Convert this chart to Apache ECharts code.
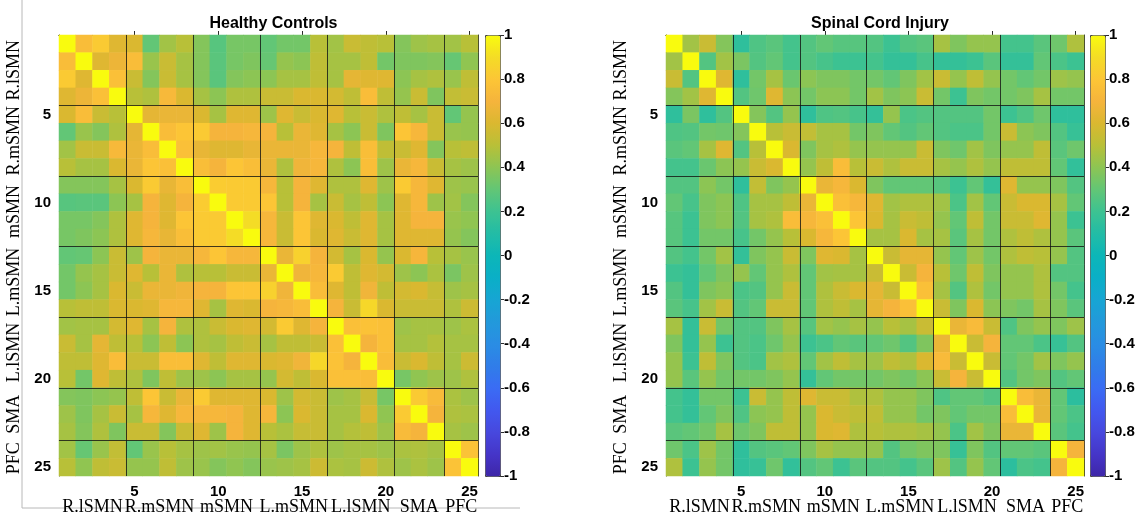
<!DOCTYPE html>
<html><head><meta charset="utf-8">
<script src="https://cdn.jsdelivr.net/npm/echarts@6/dist/echarts.min.js"></script>
<style>html,body{margin:0;padding:0;background:#fff}#c{width:1139px;height:516px}</style>
</head><body><div id="c"></div>
<script>
// ---------------- DATA ----------------
const categories = ['1','2','3','4','5','6','7','8','9','10','11','12','13','14','15','16','17','18','19','20','21','22','23','24','25'];
const tickLabels = ['5','10','15','20','25'];
const groupNames = ['R.lSMN','R.mSMN','mSMN','L.mSMN','L.lSMN','SMA','PFC'];
const groupSizes = [4,4,4,4,4,3,2];
const titles = ['Healthy Controls','Spinal Cord Injury'];

// symmetric correlation matrices: row i holds columns i..25 (upper triangle)
const hcUpper = [
 [1,.75,.82,.62,.6,.3,.45,.5,.38,.27,.35,.35,.3,.34,.34,.5,.45,.55,.52,.5,.38,.44,.46,.45,.5],
 [1,.62,.67,.75,.43,.55,.46,.38,.28,.35,.37,.31,.42,.4,.52,.46,.46,.52,.34,.37,.37,.38,.31,.41],
 [1,.77,.55,.38,.55,.46,.38,.28,.38,.4,.4,.46,.46,.52,.46,.64,.62,.62,.4,.46,.48,.43,.52],
 [1,.5,.48,.73,.6,.46,.4,.48,.48,.55,.55,.6,.6,.58,.52,.75,.52,.42,.55,.37,.53,.55],
 [1,.64,.66,.66,.6,.46,.62,.62,.44,.62,.55,.6,.62,.5,.55,.48,.52,.46,.55,.3,.42],
 [1,.75,.8,.82,.7,.7,.72,.7,.5,.66,.62,.46,.4,.55,.37,.8,.72,.55,.43,.42],
 [1,.77,.65,.62,.62,.65,.66,.66,.66,.72,.7,.52,.76,.52,.55,.62,.38,.5,.52],
 [1,.76,.7,.8,.76,.66,.48,.68,.72,.48,.4,.76,.44,.66,.72,.55,.46,.44],
 [1,.83,.82,.82,.72,.5,.7,.62,.48,.48,.62,.44,.82,.72,.62,.44,.43],
 [1,.82,.82,.8,.5,.7,.46,.55,.46,.52,.4,.62,.72,.44,.45,.38],
 [1,.9,.72,.55,.8,.62,.6,.52,.62,.46,.62,.7,.7,.43,.41],
 [1,.72,.55,.8,.6,.62,.55,.62,.46,.62,.62,.62,.42,.38],
 [1,.66,.85,.7,.58,.46,.6,.42,.6,.71,.5,.46,.43],
 [1,.68,.72,.82,.52,.62,.58,.44,.4,.47,.36,.44],
 [1,.75,.62,.52,.68,.52,.58,.6,.54,.44,.46],
 [1,.7,.55,.88,.6,.55,.55,.55,.48,.56],
 [1,.77,.78,.77,.44,.46,.46,.44,.47],
 [1,.7,.77,.46,.46,.49,.46,.46],
 [1,.75,.55,.6,.52,.46,.56],
 [1,.35,.41,.44,.44,.48],
 [1,.82,.74,.47,.44],
 [1,.7,.48,.47],
 [1,.46,.44],
 [1,.79],
 [1]
];
const sciUpper = [
 [1,.45,.55,.38,.15,.25,.28,.22,.26,.3,.27,.27,.26,.2,.26,.28,.46,.37,.42,.42,.22,.22,.28,.33,.48],
 [1,.26,.45,.36,.26,.3,.22,.26,.23,.2,.2,.22,.17,.17,.23,.17,.17,.2,.28,.17,.17,.3,.24,.2],
 [1,.62,.15,.34,.46,.32,.4,.37,.37,.34,.34,.3,.37,.45,.55,.42,.52,.42,.34,.3,.34,.44,.42],
 [1,.26,.33,.62,.4,.34,.4,.4,.34,.45,.37,.4,.55,.34,.2,.37,.34,.34,.37,.46,.34,.34],
 [1,.38,.26,.42,.15,.25,.26,.23,.17,.42,.24,.26,.26,.26,.26,.34,.2,.25,.33,.15,.15],
 [1,.5,.55,.53,.46,.46,.34,.37,.3,.26,.3,.26,.24,.24,.34,.55,.4,.37,.26,.18],
 [1,.6,.37,.46,.48,.42,.42,.42,.42,.55,.37,.33,.45,.37,.42,.42,.52,.28,.33],
 [1,.42,.52,.75,.5,.55,.48,.55,.55,.46,.42,.48,.42,.52,.52,.52,.3,.16],
 [1,.66,.72,.6,.37,.3,.3,.3,.27,.2,.3,.17,.62,.42,.42,.37,.26],
 [1,.77,.72,.62,.45,.48,.48,.45,.24,.45,.3,.55,.6,.6,.46,.3],
 [1,.8,.6,.46,.55,.52,.42,.3,.52,.34,.55,.55,.62,.42,.2],
 [1,.46,.46,.6,.46,.46,.28,.46,.34,.48,.52,.48,.42,.28],
 [1,.55,.64,.64,.42,.3,.44,.34,.48,.52,.5,.42,.26],
 [1,.55,.7,.5,.33,.52,.37,.42,.42,.48,.26,.26],
 [1,.77,.46,.26,.48,.34,.42,.42,.48,.34,.22],
 [1,.55,.37,.6,.4,.37,.34,.46,.37,.28],
 [1,.66,.74,.55,.25,.37,.42,.37,.44],
 [1,.55,.7,.3,.3,.24,.18,.26],
 [1,.55,.3,.34,.45,.37,.42],
 [1,.26,.34,.37,.26,.3],
 [1,.75,.66,.3,.14],
 [1,.66,.3,.24],
 [1,.28,.22],
 [1,.7],
 [1]
];

// parula-like colormap, evenly spaced from -1 to 1
const parula = ['#3e26a8','#4535c8','#4748de','#4258ef','#3a6cf4','#307de9','#2a8de4','#2299db','#17a5d3','#0aafc7',
  '#0cb6b8','#22bca6','#3cc292','#62c676','#8cc554','#b8c038','#dab830','#f5b43c','#fcc536','#f4dc26','#f9fb0e'];

// ---------------- BUILD ----------------
function toCells(upper){
  const out = [];
  upper.forEach((row,i)=>row.forEach((v,k)=>{
    const j=i+k;
    out.push([j,i,v]);
    if(j!==i) out.push([i,j,v]);
  }));
  return out;
}
const mats = [toCells(hcUpper), toCells(sciUpper)];
const bounds = []; let acc=0;
groupSizes.forEach((s,i)=>{acc+=s; if(i<groupSizes.length-1) bounds.push(acc);});
const centers = []; acc=0;
groupSizes.forEach(s=>{centers.push(acc+s/2); acc+=s;});

const SANS='Liberation Sans', SERIF='Liberation Serif';
const tickFn = (idx,val)=>tickLabels.indexOf(categories[idx])>=0;
const panels = [{left:59,top:35,width:419,height:441,cb:485},{left:666,top:35,width:418,height:441,cb:1090}];
const axColor = '#2b2b2b';

const grid=[], xAxis=[], yAxis=[], series=[], visualMap=[], title=[];
panels.forEach((p,pi)=>{ grid.push({left:p.left,top:p.top,width:p.width,height:p.height}); });
panels.forEach((p,pi)=>{ grid.push({left:p.cb,top:p.top,width:15,height:p.height}); });

panels.forEach((p,pi)=>{
  const tick = {show:true,inside:true,length:4,alignWithLabel:true,interval:tickFn,lineStyle:{color:axColor}};
  const line = {show:true,lineStyle:{color:axColor,width:1}};
  xAxis.push({type:'category',gridIndex:pi,data:categories,position:'bottom',axisLine:line,axisTick:tick,
    axisLabel:{interval:tickFn,margin:8,fontFamily:SANS,fontSize:15,fontWeight:'bold',color:'#000'},splitLine:{show:false}});
  xAxis.push({type:'category',gridIndex:pi,data:categories,position:'top',axisLine:line,axisTick:tick,axisLabel:{show:false},splitLine:{show:false}});
  xAxis.push({type:'value',gridIndex:pi,min:0,max:25,show:false});
  yAxis.push({type:'category',gridIndex:pi,data:categories,inverse:true,position:'left',axisLine:line,axisTick:tick,
    axisLabel:{interval:tickFn,margin:8,fontFamily:SANS,fontSize:15,fontWeight:'bold',color:'#000'},splitLine:{show:false}});
  yAxis.push({type:'category',gridIndex:pi,data:categories,inverse:true,position:'right',axisLine:line,axisTick:tick,axisLabel:{show:false},splitLine:{show:false}});
  yAxis.push({type:'value',gridIndex:pi,min:0,max:25,inverse:true,show:false});
  title.push({text:titles[pi],left:p.left+p.width/2,top:11,textAlign:'center',
    textStyle:{fontFamily:SANS,fontSize:16,fontWeight:'bold',color:'#000'}});
});
panels.forEach((p,pi)=>{
  xAxis.push({type:'category',gridIndex:2+pi,data:[''],show:false});
  yAxis.push({type:'value',gridIndex:2+pi,min:-1,max:1,interval:0.2,position:'right',
    axisLine:{show:false},axisTick:{show:true,length:4,lineStyle:{color:axColor}},splitLine:{show:false},
    axisLabel:{margin:4,fontFamily:SANS,fontSize:15,fontWeight:'bold',color:'#000',
      formatter:v=>String(Math.round(v*10)/10)}});
});
panels.forEach((p,pi)=>{
  series.push({type:'heatmap',xAxisIndex:3*pi,yAxisIndex:3*pi,data:mats[pi],itemStyle:{borderWidth:0},
    emphasis:{disabled:true},silent:true,progressive:0});
});
panels.forEach((p,pi)=>{
  const d=[];
  bounds.forEach(b=>{ d.push({coords:[[b,0],[b,25]]}); d.push({coords:[[0,b],[25,b]]}); });
  series.push({type:'lines',coordinateSystem:'cartesian2d',xAxisIndex:3*pi+2,yAxisIndex:3*pi+2,data:d,silent:true,z:5,
    lineStyle:{color:'#111',width:1,opacity:0.8}});
});
panels.forEach((p,pi)=>{
  series.push({type:'line',xAxisIndex:6+pi,yAxisIndex:6+pi,data:[],silent:true});
  visualMap.push({type:'continuous',seriesIndex:pi,min:-1,max:1,calculable:false,orient:'vertical',
    left:p.cb,top:p.top,itemWidth:15,itemHeight:p.height,padding:0,text:null,hoverLink:false,
    inRange:{color:parula},borderColor:'#444',borderWidth:1});
});

const chart = echarts.init(document.getElementById('c'),null,{renderer:'canvas'});
chart.setOption({animation:false,backgroundColor:'#fff',title,grid,xAxis,yAxis,series,visualMap});

// group labels positioned through the axes' scales
const graphic=[];
panels.forEach((p,pi)=>{
  const finder={xAxisIndex:3*pi+2,yAxisIndex:3*pi+2};
  centers.forEach((c,gi)=>{
    const px=chart.convertToPixel(finder,[c,25]);
    graphic.push({type:'text',x:px[0],y:px[1]+31,style:{text:groupNames[gi],font:'18px "'+SERIF+'"',fill:'#000',align:'center',verticalAlign:'middle'},z:10});
    const py=chart.convertToPixel(finder,[0,c]);
    graphic.push({type:'text',x:py[0]-45,y:py[1],rotation:Math.PI/2,style:{text:groupNames[gi],font:'18px "'+SERIF+'"',fill:'#000',align:'center',verticalAlign:'middle'},z:10});
  });
});
graphic.push({type:'line',shape:{x1:22,y1:0,x2:22,y2:508},style:{stroke:'#b8b8b8',lineWidth:1},z:-1});
graphic.push({type:'line',shape:{x1:22,y1:508,x2:520,y2:508},style:{stroke:'#b8b8b8',lineWidth:1},z:-1});
chart.setOption({graphic});
</script></body></html>
